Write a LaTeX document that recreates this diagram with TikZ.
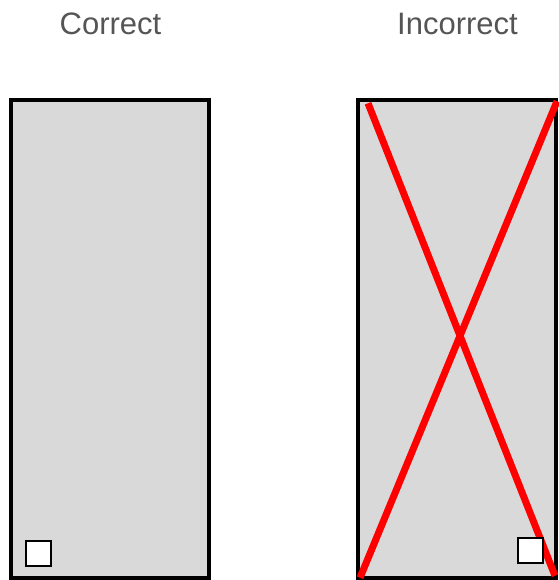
\documentclass[tikz,border=0pt]{standalone}
\usepackage{fontspec}
\setmainfont{Liberation Sans}
\usetikzlibrary{positioning}
\definecolor{panelgray}{RGB}{217,217,217}
\definecolor{titlegray}{RGB}{85,85,85}
\definecolor{crossred}{RGB}{255,0,0}

\begin{document}
\begin{tikzpicture}[x=1pt, y=-1pt,
  panel/.style={draw, line width=4pt, fill=panelgray, inner sep=0pt, outer sep=0pt,
    minimum width=198.5pt, minimum height=477.5pt},
  handle/.style={draw, line width=2pt, fill=white, inner sep=0pt, outer sep=0pt,
    minimum size=25pt},
  title/.style={text=titlegray, font=\fontsize{31}{36}\selectfont, anchor=base},
  cross/.style={crossred, line width=7pt}]
\useasboundingbox (0,0) rectangle (558,580);
% Titles
\node[title] (tcor) at (110.5,35) {Correct};
\node[title] (tinc) at (457.5,35) {Incorrect};
% Panels
\node[panel] (cor) at (110,339.25) {};
\node[panel] (inc) at (456.75,339) {};
% Red cross
\draw[cross] ([xshift=10.5pt, yshift=-3pt]inc.north west) -- ([xshift=-1pt, yshift=2pt]inc.south east);
\draw[cross] ([xshift=1pt, yshift=-1pt]inc.north east) -- ([xshift=2.5pt]inc.south west);
% Small squares
\node[handle] (hcor) at (38.5,553) {};
\node[handle] (hinc) at (530,550) {};
\end{tikzpicture}
\end{document}
